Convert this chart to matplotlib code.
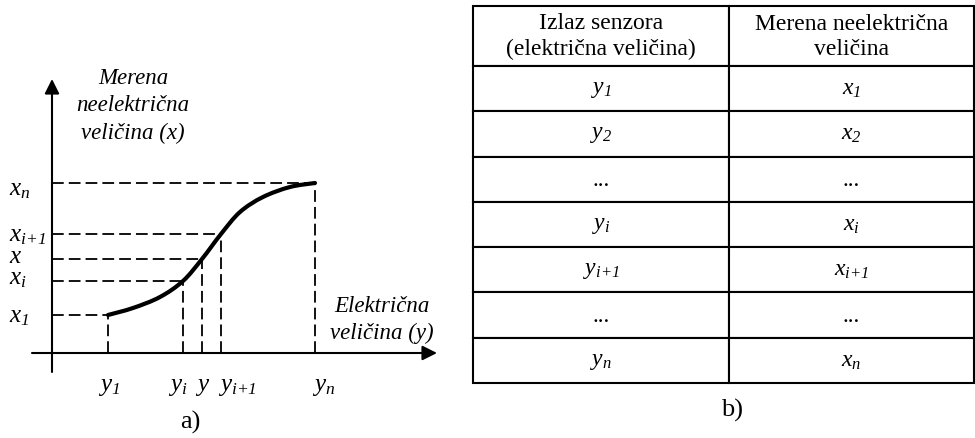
import numpy as np
import matplotlib
matplotlib.use("Agg")
import matplotlib.pyplot as plt
from matplotlib.path import Path
from matplotlib.patches import PathPatch

plt.rcParams['font.family'] = ['Liberation Serif', 'DejaVu Serif']
# all math text italic (digits and + included), like the reference
plt.rcParams['mathtext.fontset'] = 'custom'
plt.rcParams['mathtext.rm'] = 'Liberation Serif:italic'
plt.rcParams['mathtext.it'] = 'Liberation Serif:italic'
plt.rcParams['mathtext.bf'] = 'Liberation Serif:bold'
plt.rcParams['mathtext.default'] = 'it'

# --- data (axis units) ---
# calibration points: sensor output (y) and measured quantity (x)
sensor_y = [56, 131, 150, 169, 263]
measured_x = [38, 72, 94, 119, 170]
y_labels = [r'$y_1$', r'$y_i$', r'$y$', r'$y_{i{+}1}$', r'$y_n$']
x_labels = [r'$x_1$', r'$x_i$', r'$x$', r'$x_{i{+}1}$', r'$x_n$']

# points along the characteristic curve
curve_y = [56, 81, 108, 131, 150, 169, 188, 211, 238, 263]
curve_x = [38, 45, 56, 72, 94, 119, 141, 156, 166, 170]

# table contents
table_header = ['Izlaz senzora\n(električna veličina)', 'Merena neelektrična\nveličina']
table_col1 = [r'$y_1$', r'$y_2$', '...', r'$y_i$', r'$y_{i{+}1}$', '...', r'$y_n$']
table_col2 = [r'$x_1$', r'$x_2$', '...', r'$x_i$', r'$x_{i{+}1}$', '...', r'$x_n$']

# label nudges (pixels)
y_label_dx = [-10, -15, -7, -3, -3]
x_label_dy = [-6, -2, -3, -6, -11]

W, H = 975, 439
fig = plt.figure(figsize=(W / 100, H / 100), dpi=100)

# --- a) diagram: one axes over the whole figure, origin at the axis cross ---
ax = fig.add_axes([0, 0, 1, 1])
ax.set_xlim(-52, W - 52)
ax.set_ylim(354 - H, 354)
ax.axis('off')

arrow = dict(arrowstyle='-|>', lw=1.5, color='black', mutation_scale=22, shrinkA=0, shrinkB=0)
ax.annotate('', xy=(0, 274), xytext=(0, -19), arrowprops=arrow)
ax.annotate('', xy=(385, 0), xytext=(-20, 0), arrowprops=arrow)

dash = (0, (6.5, 2.8))
for yy, xx in zip(sensor_y, measured_x):
    ax.plot([0, yy], [xx, xx], color='black', lw=1.3, linestyle=dash)
    ax.plot([yy, yy], [0, xx], color='black', lw=1.3, linestyle=dash)

# smooth curve through the read points (Catmull-Rom as cubic Bezier segments)
pts = np.column_stack([curve_y, curve_x]).astype(float)
ext = np.vstack([pts[0], pts, pts[-1]])
verts = [pts[0]]
codes = [Path.MOVETO]
for i in range(1, len(ext) - 2):
    p0, p1, p2, p3 = ext[i - 1], ext[i], ext[i + 1], ext[i + 2]
    verts += [p1 + (p2 - p0) / 6, p2 - (p3 - p1) / 6, p2]
    codes += [Path.CURVE4] * 3
ax.add_patch(PathPatch(Path(verts, codes), fill=False, lw=3, edgecolor='black',
                       capstyle='round', joinstyle='round'))

fs = 18
for yy, lab, dx in zip(sensor_y, y_labels, y_label_dx):
    ax.text(yy + dx, -37, lab, ha='left', va='baseline', fontsize=fs)

for xx, lab, dy in zip(measured_x, x_labels, x_label_dy):
    ax.text(-43, xx + dy, lab, ha='left', va='baseline', fontsize=fs)

ax.text(81, 248, 'Merena\nneelektrična\nveličina (x)', ha='center', va='center',
        fontsize=16.5, style='italic', linespacing=1.42)
ax.text(330, 34, 'Električna\nveličina (y)', ha='center', va='center',
        fontsize=16.5, style='italic', linespacing=1.42)
ax.text(138, -68, 'a)', ha='center', va='center', fontsize=19)

# --- b) table ---
tx0, tx1, ty0, ty1 = 473, 974, 7, 384
tax = fig.add_axes([tx0 / W, 1 - ty1 / H, (tx1 - tx0) / W, (ty1 - ty0) / H])
tax.axis('off')
cells = [table_header] + [[a, b] for a, b in zip(table_col1, table_col2)]
tbl = tax.table(cellText=cells, cellLoc='center', loc='center', bbox=[0, 0, 1, 1])
tbl.auto_set_font_size(False)
col_w = [256, 245]
for (r, c), cell in tbl.get_celld().items():
    cell.set_width(col_w[c])
    cell.set_height(60 if r == 0 else 45.3)
    cell.set_linewidth(1.5)
    cell.get_text().set_fontsize(17)
    if r == 0:
        cell.get_text().set_linespacing(1.3)

fig.text(732 / W, 1 - 410 / H, 'b)', ha='center', va='center', fontsize=19)

fig.savefig('out.png', dpi=100)
